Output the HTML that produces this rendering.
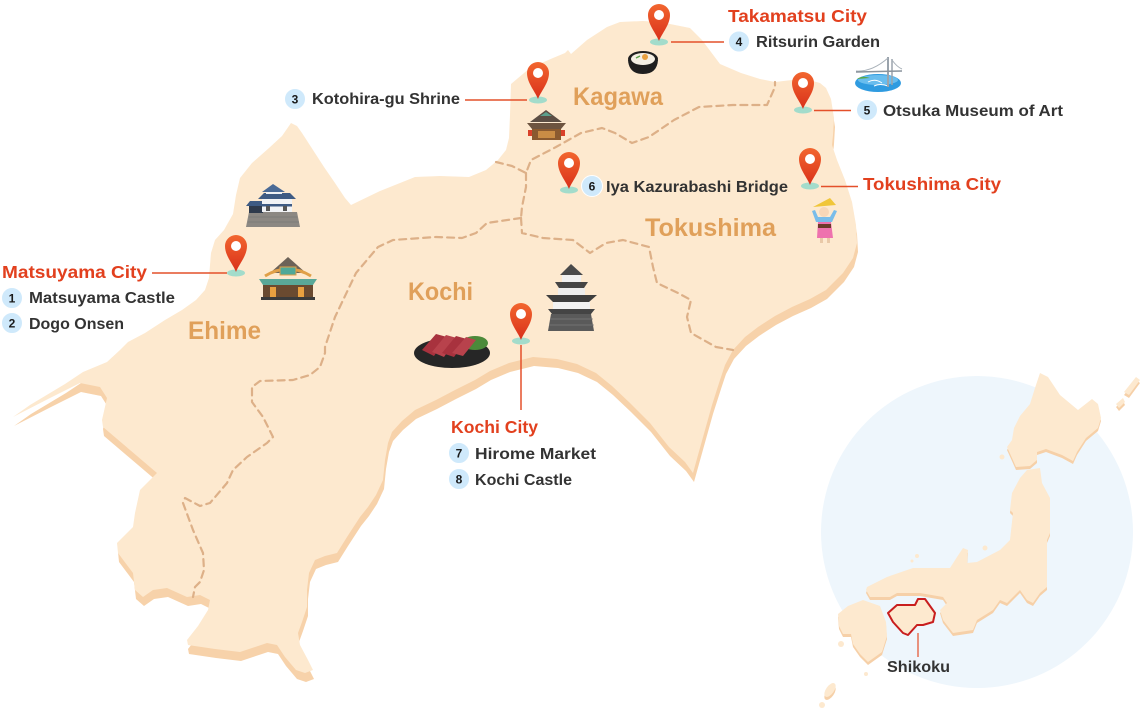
<!DOCTYPE html>
<html><head><meta charset="utf-8">
<style>
html,body{margin:0;padding:0;background:#fff;}
svg{display:block;}
text{font-family:"Liberation Sans",sans-serif;font-weight:bold;}
</style></head><body>
<svg width="1141" height="714" viewBox="0 0 1141 714" xmlns="http://www.w3.org/2000/svg">
<defs>
<linearGradient id="pg" x1="0" y1="0" x2="0" y2="1"><stop offset="0" stop-color="#F2662F"/><stop offset="1" stop-color="#D9301A"/></linearGradient>
</defs>
<rect width="1141" height="714" fill="#fff"/>

<!-- Japan inset -->
<circle cx="977" cy="532" r="156" fill="#EEF6FC"/>
<g fill="#F6D0A8" transform="translate(0,3)">
<path d="M1040,373 L1048,377 L1060,395 L1078,410 L1092,399 L1098,404 L1101,418 L1098,428 L1086,438 L1077,452 L1073,461 L1062,455 L1046,449 L1037,452 L1037,460 L1030,466 L1016,467 L1012,458 L1007,447 L1012,440 L1014,428 L1020,416 L1030,404 L1035,388 Z"/>
<path d="M1027,470 L1040,468 L1042,483 L1050,498 L1050,533 L1047,540 L1047,587 L1040,593 L1033,603 L1027,600 L1020,590 L1013,597 L1007,603 L1000,600 L993,610 L977,620 L973,630 L953,633 L943,620 L940,610 L947,603 L943,597 L920,593 L897,593 L890,597 L870,597 L866,590 L867,587 L887,577 L913,568 L950,568 L957,557 L963,548 L968,550 L967,563 L977,562 L1000,550 L1010,540 L1013,513 L1010,510 L1012,493 L1020,478 Z"/>
<path d="M838,614 L848,606 L863,600 L880,606 L886,622 L887,636 L882,652 L868,662 L860,654 L853,644 L851,634 L843,634 L839,626 Z"/>
<path d="M1116,404 L1123,398 L1125,402 L1119,408Z"/>
<path d="M1124,392 L1136,377 L1140,380 L1129,395Z"/>
<ellipse cx="830" cy="690" rx="4" ry="8" transform="rotate(35 830 690)"/>
</g>
<g fill="#FDE9CF">
<path d="M1040,373 L1048,377 L1060,395 L1078,410 L1092,399 L1098,404 L1101,418 L1098,428 L1086,438 L1077,452 L1073,461 L1062,455 L1046,449 L1037,452 L1037,460 L1030,466 L1016,467 L1012,458 L1007,447 L1012,440 L1014,428 L1020,416 L1030,404 L1035,388 Z"/>
<path d="M1027,470 L1040,468 L1042,483 L1050,498 L1050,533 L1047,540 L1047,587 L1040,593 L1033,603 L1027,600 L1020,590 L1013,597 L1007,603 L1000,600 L993,610 L977,620 L973,630 L953,633 L943,620 L940,610 L947,603 L943,597 L920,593 L897,593 L890,597 L870,597 L866,590 L867,587 L887,577 L913,568 L950,568 L957,557 L963,548 L968,550 L967,563 L977,562 L1000,550 L1010,540 L1013,513 L1010,510 L1012,493 L1020,478 Z"/>
<path d="M838,614 L848,606 L863,600 L880,606 L886,622 L887,636 L882,652 L868,662 L860,654 L853,644 L851,634 L843,634 L839,626 Z"/>
<path d="M1116,404 L1123,398 L1125,402 L1119,408Z"/>
<path d="M1124,392 L1136,377 L1140,380 L1129,395Z"/>
<ellipse cx="830" cy="690" rx="4" ry="8" transform="rotate(35 830 690)"/>
<circle cx="985" cy="548" r="2.5"/>
<circle cx="917" cy="556" r="2"/>
<circle cx="912" cy="561" r="1.5"/>
<circle cx="1002" cy="457" r="2.5"/>
<circle cx="841" cy="644" r="3"/>
<circle cx="822" cy="705" r="3"/>
<circle cx="866" cy="674" r="2"/>
</g>
<path d="M888,613 L897,605 L915,605 L918,599 L925,599 L935,613 L933,622 L923,625 L917,625 L908,635 L903,633 L893,622 Z" fill="#FDE9CF" stroke="#C81E1E" stroke-width="2" stroke-linejoin="round"/>
<line x1="918" y1="633" x2="918" y2="657" stroke="#E4502A" stroke-width="1.2"/>
<text x="887" y="672" font-size="16" fill="#333" textLength="63" lengthAdjust="spacingAndGlyphs">Shikoku</text>

<!-- Main Shikoku map -->
<g>
<path id="shp" transform="translate(1,9)" fill="#F7D2AA" d="M13,417 L30,405 L50,393 L65,384 L83,372 L107,362 L120,350 L128,342 L145,333 L165,320 L182,310 L196,300 L205,290 L209,278 L210,265 L211,253 L215,240 L224,230 L233,214 L236,195 L240,178 L252,163 L269,148 L282,136 L291,123 L297,126 L302,133 L313,150 L324,167 L335,183 L345,198 L351,205 L380,191 L415,177 L440,176 L469,177 L486,170 L498,160 L506,150 L509,138 L510,115 L511,84 L530,68 L553,58 L565,53 L568,50 L571,54 L587,40 L607,27 L620,22 L643,21 L660,22 L675,25 L690,28 L695,33 L702,40 L708,48 L714,56 L720,64 L741,73 L760,79 L775,82 L792,80 L809,80 L820,83 L826,88 L831,99 L834,118 L833,135 L832,145 L837,160 L845,180 L852,202 L856,225 L857,243 L853,258 L843,273 L826,290 L810,299 L792,307 L775,316 L758,327 L745,337 L733,350 L725,365 L720,380 L712,405 L705,430 L698,455 L693,473 L685,462 L669,447 L650,423 L630,403 L612,386 L596,373 L577,364 L557,359 L533,357 L509,363 L490,371 L475,380 L455,390 L436,400 L415,410 L402,421 L392,432 L388,443 L385,460 L383,480 L376,495 L368,507 L360,517 L347,537 L337,553 L325,556 L315,560 L309,573 L307,590 L307,607 L302,622 L298,633 L300,645 L308,660 L313,670 L305,673 L296,670 L285,657 L277,645 L267,643 L252,648 L240,652 L215,649 L188,645 L187,640 L198,626 L208,610 L210,600 L200,595 L187,597 L167,588 L153,590 L143,597 L135,590 L133,573 L118,553 L117,543 L133,527 L135,513 L140,490 L157,473 L130,450 L103,427 L102,420 L107,398 L100,387 L80,383 L50,398 Z"/>
<path fill="#FDE9CF" d="M13,417 L30,405 L50,393 L65,384 L83,372 L107,362 L120,350 L128,342 L145,333 L165,320 L182,310 L196,300 L205,290 L209,278 L210,265 L211,253 L215,240 L224,230 L233,214 L236,195 L240,178 L252,163 L269,148 L282,136 L291,123 L297,126 L302,133 L313,150 L324,167 L335,183 L345,198 L351,205 L380,191 L415,177 L440,176 L469,177 L486,170 L498,160 L506,150 L509,138 L510,115 L511,84 L530,68 L553,58 L565,53 L568,50 L571,54 L587,40 L607,27 L620,22 L643,21 L660,22 L675,25 L690,28 L695,33 L702,40 L708,48 L714,56 L720,64 L741,73 L760,79 L775,82 L792,80 L809,80 L820,83 L826,88 L831,99 L834,118 L833,135 L832,145 L837,160 L845,180 L852,202 L856,225 L857,243 L853,258 L843,273 L826,290 L810,299 L792,307 L775,316 L758,327 L745,337 L733,350 L725,365 L720,380 L712,405 L705,430 L698,455 L693,473 L685,462 L669,447 L650,423 L630,403 L612,386 L596,373 L577,364 L557,359 L533,357 L509,363 L490,371 L475,380 L455,390 L436,400 L415,410 L402,421 L392,432 L388,443 L385,460 L383,480 L376,495 L368,507 L360,517 L347,537 L337,553 L325,556 L315,560 L309,573 L307,590 L307,607 L302,622 L298,633 L300,645 L308,660 L313,670 L305,673 L296,670 L285,657 L277,645 L267,643 L252,648 L240,652 L215,649 L188,645 L187,640 L198,626 L208,610 L210,600 L200,595 L187,597 L167,588 L153,590 L143,597 L135,590 L133,573 L118,553 L117,543 L133,527 L135,513 L140,490 L157,473 L130,450 L103,427 L102,420 L107,398 L100,387 L80,383 L50,398 Z"/>
</g>

<!-- prefecture borders -->
<g fill="none" stroke="#DDB088" stroke-width="2.2" stroke-dasharray="7 5" stroke-linecap="round" stroke-linejoin="round">
<path d="M496,162 L512,166 L526,173 L531,160 L556,147 L581,133 L602,128 L615,133 L632,143 L649,137 L674,120 L699,107 L733,105 L767,105 L775,87 L775,82"/>
<path d="M526,173 L526,187 L522,207 L521,218"/>
<path d="M521,218 L487,223 L476,233 L462,238 L436,237 L393,240 L378,247 L356,273 L335,317 L325,347 L325,353 L320,367 L310,375 L293,380 L260,381 L252,387 L252,402 L263,417 L273,437 L267,443 L247,457 L233,470 L227,483 L210,503 L200,506 L185,498 L183,503 L193,530 L203,553 L204,570 L200,582 L195,587 L193,597"/>
<path d="M521,218 L522,233 L543,238 L573,240 L590,253 L606,243 L623,240 L649,247 L653,267 L657,283 L678,293 L691,300 L687,317 L691,333 L716,347 L733,350"/>
</g>

<!-- prefecture labels -->
<g fill="#E0A05A" font-size="25">
<text x="573" y="105" textLength="90" lengthAdjust="spacingAndGlyphs">Kagawa</text>
<text x="645" y="236" textLength="131" lengthAdjust="spacingAndGlyphs">Tokushima</text>
<text x="408" y="300" textLength="65" lengthAdjust="spacingAndGlyphs">Kochi</text>
<text x="188" y="339" textLength="73" lengthAdjust="spacingAndGlyphs">Ehime</text>
</g>

<!-- icons -->
<g>
<path d="M246,227 L300,227 L297,212 L249,212 Z" fill="#8C8883"/>
<path d="M249,217 H297 M248,222 H299" stroke="#777" stroke-width="0.8"/>
<rect x="249" y="204" width="14" height="9" fill="#2E3A4C"/>
<path d="M246,206 L266,206 L263,201 L250,201 Z" fill="#3E5B84"/>
<rect x="262" y="198" width="30" height="14" fill="#F1F3F6"/>
<rect x="262" y="204" width="30" height="2.5" fill="#3E5B84"/>
<rect x="266" y="206" width="4" height="5" fill="#555"/>
<rect x="283" y="206" width="4" height="5" fill="#555"/>
<path d="M258,199 L296,199 L290,193 L264,193Z" fill="#3E5B84"/>
<rect x="266" y="190" width="16" height="4" fill="#EEF1F5"/>
<path d="M273,184 L262,192 L285,192Z" fill="#4A6A96"/>
</g>
<g>
<path d="M288,257 L270,273 L306,273 Z" fill="#6C6258"/>
<path d="M265,276 Q288,262 311,276" stroke="#E0A048" stroke-width="3" fill="none"/>
<rect x="280" y="267" width="16" height="8" fill="#4FA898" stroke="#E0A048" stroke-width="1"/>
<path d="M259,279 L317,279 L313,285 L263,285Z" fill="#5AA898"/>
<rect x="263" y="285" width="50" height="13" fill="#6A4A30"/>
<rect x="270" y="287" width="6" height="10" fill="#E8A040"/>
<rect x="298" y="287" width="6" height="10" fill="#E8A040"/>
<rect x="261" y="297" width="54" height="3" fill="#3A3A3A"/>
</g>
<g>
<path d="M546,110 L530,122 L562,122Z" fill="#5C4E44"/>
<path d="M540,116 L552,116 L546,112Z" fill="#5BA08C"/>
<path d="M527,123 L566,123 L561,129 L532,129Z" fill="#6D5440"/>
<rect x="532" y="129" width="29" height="11" fill="#8A5A30"/>
<rect x="538" y="131" width="17" height="7" fill="#C98C45"/>
<rect x="528" y="130" width="4" height="6" fill="#D9412B"/>
<rect x="561" y="130" width="4" height="6" fill="#D9412B"/>
</g>
<g>
<path d="M628,60 Q629,74 643,74 Q657,74 658,60 Z" fill="#1F1F1F"/>
<ellipse cx="643" cy="59" rx="15" ry="8" fill="#1F1F1F"/>
<ellipse cx="643" cy="59" rx="12" ry="6" fill="#F4EFE4"/>
<circle cx="645" cy="57" r="3" fill="#E8A040"/>
<path d="M636,58 L640,56" stroke="#5BA04A" stroke-width="1.5"/>
</g>
<g>
<ellipse cx="878" cy="83" rx="23" ry="9" fill="#2F9BE0"/>
<ellipse cx="878" cy="80" rx="20" ry="5" fill="#69BDEE"/>
<path d="M868,82 Q875,78 882,83 M874,86 Q880,83 888,86" stroke="#fff" stroke-width="1" fill="none"/>
<path d="M857,79 Q862,75 870,78" fill="#59A84A"/>
<line x1="888" y1="57" x2="888" y2="87" stroke="#9AA3AC" stroke-width="2"/>
<line x1="892" y1="59" x2="892" y2="85" stroke="#9AA3AC" stroke-width="1.5"/>
<path d="M888,58 Q872,72 856,71 M892,60 Q897,67 902,69" stroke="#A9B1B9" stroke-width="1" fill="none"/>
<line x1="856" y1="72" x2="902" y2="71" stroke="#8A939C" stroke-width="1.5"/>
</g>
<g>
<path d="M813,207 L830,198 L836,205 Z" fill="#F0C63A"/>
<circle cx="824" cy="212" r="5" fill="#F7D7B8"/>
<path d="M812,211 L816,222 L832,222 L837,211 L834,210 L830,217 L818,217 L815,210Z" fill="#79BDEA"/>
<path d="M818,222 L831,222 L833,238 L817,238Z" fill="#EE72AE"/>
<rect x="818" y="224" width="13" height="4" fill="#6B3A2A"/>
<rect x="820" y="238" width="3" height="5" fill="#E9C9A8"/>
<rect x="827" y="238" width="3" height="5" fill="#E9C9A8"/>
</g>
<g>
<path d="M571,264 L560,275 L583,275Z" fill="#4A4A4A"/>
<rect x="562" y="275" width="19" height="7" fill="#F0F0F0"/>
<path d="M555,282 L588,282 L584,288 L559,288Z" fill="#454545"/>
<rect x="558" y="288" width="27" height="7" fill="#EDEDED"/>
<path d="M546,295 L597,295 L589,302 L553,302Z" fill="#3E3E3E"/>
<rect x="553" y="302" width="37" height="7" fill="#F2F2F2"/>
<path d="M548,309 L595,309 L591,314 L552,314Z" fill="#444"/>
<path d="M551,314 L591,314 L594,331 L548,331Z" fill="#5A5A5A"/>
<path d="M550,319 H593 M549,325 H594" stroke="#7A7A7A" stroke-width="0.8"/>
</g>
<g>
<ellipse cx="452" cy="353" rx="38" ry="15" fill="#262626"/>
<ellipse cx="475" cy="343" rx="13" ry="7" fill="#4C8A3A"/>
<path d="M422,350 L436,334 L447,337 L434,356Z" fill="#A8323E"/>
<path d="M432,352 L446,335 L457,338 L444,357Z" fill="#B8424C"/>
<path d="M442,353 L456,336 L467,339 L454,357Z" fill="#A8323E"/>
<path d="M452,353 L466,337 L476,340 L463,356Z" fill="#B8424C"/>
</g>

<!-- connector lines -->
<g stroke="#E4502A" stroke-width="1.5">
<line x1="671" y1="42" x2="724" y2="42"/>
<line x1="465" y1="100" x2="527" y2="100"/>
<line x1="152" y1="273" x2="227" y2="273"/>
<line x1="814" y1="110.5" x2="851" y2="110.5"/>
<line x1="821" y1="186.5" x2="858" y2="186.5"/>
<line x1="521" y1="345" x2="521" y2="410"/>
</g>

<!-- pins -->
<g transform="translate(659,42)"><ellipse rx="9" ry="3.5" fill="#A3DCCB"/><path d="M0,-1 C-3,-9 -11,-17 -11,-27 A11,11 0 1 1 11,-27 C11,-17 3,-9 0,-1Z" fill="url(#pg)"/><circle cy="-27" r="5" fill="#fff"/></g>
<g transform="translate(538,100)"><ellipse rx="9" ry="3.5" fill="#A3DCCB"/><path d="M0,-1 C-3,-9 -11,-17 -11,-27 A11,11 0 1 1 11,-27 C11,-17 3,-9 0,-1Z" fill="url(#pg)"/><circle cy="-27" r="5" fill="#fff"/></g>
<g transform="translate(803,110)"><ellipse rx="9" ry="3.5" fill="#A3DCCB"/><path d="M0,-1 C-3,-9 -11,-17 -11,-27 A11,11 0 1 1 11,-27 C11,-17 3,-9 0,-1Z" fill="url(#pg)"/><circle cy="-27" r="5" fill="#fff"/></g>
<g transform="translate(569,190)"><ellipse rx="9" ry="3.5" fill="#A3DCCB"/><path d="M0,-1 C-3,-9 -11,-17 -11,-27 A11,11 0 1 1 11,-27 C11,-17 3,-9 0,-1Z" fill="url(#pg)"/><circle cy="-27" r="5" fill="#fff"/></g>
<g transform="translate(810,186)"><ellipse rx="9" ry="3.5" fill="#A3DCCB"/><path d="M0,-1 C-3,-9 -11,-17 -11,-27 A11,11 0 1 1 11,-27 C11,-17 3,-9 0,-1Z" fill="url(#pg)"/><circle cy="-27" r="5" fill="#fff"/></g>
<g transform="translate(236,273)"><ellipse rx="9" ry="3.5" fill="#A3DCCB"/><path d="M0,-1 C-3,-9 -11,-17 -11,-27 A11,11 0 1 1 11,-27 C11,-17 3,-9 0,-1Z" fill="url(#pg)"/><circle cy="-27" r="5" fill="#fff"/></g>
<g transform="translate(521,341)"><ellipse rx="9" ry="3.5" fill="#A3DCCB"/><path d="M0,-1 C-3,-9 -11,-17 -11,-27 A11,11 0 1 1 11,-27 C11,-17 3,-9 0,-1Z" fill="url(#pg)"/><circle cy="-27" r="5" fill="#fff"/></g>

<!-- number badges -->
<g fill="#CFE9FB" stroke="#fff" stroke-width="1">
<circle cx="739" cy="41.5" r="10.5"/>
<circle cx="867" cy="110" r="10.5"/>
<circle cx="592" cy="186" r="10.5"/>
<circle cx="295" cy="99" r="10.5"/>
<circle cx="12" cy="298" r="10.5"/>
<circle cx="12" cy="323" r="10.5"/>
<circle cx="459" cy="453" r="10.5"/>
<circle cx="459" cy="479" r="10.5"/>
</g>
<g fill="#1A1A1A" font-size="12" text-anchor="middle">
<text x="739" y="46">4</text>
<text x="867" y="114.5">5</text>
<text x="592" y="190.5">6</text>
<text x="295" y="103.5">3</text>
<text x="12" y="302.5">1</text>
<text x="12" y="327.5">2</text>
<text x="459" y="457.5">7</text>
<text x="459" y="483.5">8</text>
</g>

<!-- red city labels -->
<g fill="#E2401E" font-size="17.5">
<text x="728" y="22" textLength="139" lengthAdjust="spacingAndGlyphs">Takamatsu City</text>
<text x="863" y="190" textLength="138" lengthAdjust="spacingAndGlyphs">Tokushima City</text>
<text x="2" y="278" textLength="145" lengthAdjust="spacingAndGlyphs">Matsuyama City</text>
<text x="451" y="433" textLength="87" lengthAdjust="spacingAndGlyphs">Kochi City</text>
</g>

<!-- spot labels -->
<g fill="#333" font-size="16">
<text x="756" y="47" textLength="124" lengthAdjust="spacingAndGlyphs">Ritsurin Garden</text>
<text x="883" y="116" textLength="180" lengthAdjust="spacingAndGlyphs">Otsuka Museum of Art</text>
<text x="606" y="192" textLength="182" lengthAdjust="spacingAndGlyphs">Iya Kazurabashi Bridge</text>
<text x="312" y="104" textLength="148" lengthAdjust="spacingAndGlyphs">Kotohira-gu Shrine</text>
<text x="29" y="303" textLength="146" lengthAdjust="spacingAndGlyphs">Matsuyama Castle</text>
<text x="29" y="329" textLength="95" lengthAdjust="spacingAndGlyphs">Dogo Onsen</text>
<text x="475" y="459" textLength="121" lengthAdjust="spacingAndGlyphs">Hirome Market</text>
<text x="475" y="485" textLength="97" lengthAdjust="spacingAndGlyphs">Kochi Castle</text>
</g>
</svg>
</body></html>
